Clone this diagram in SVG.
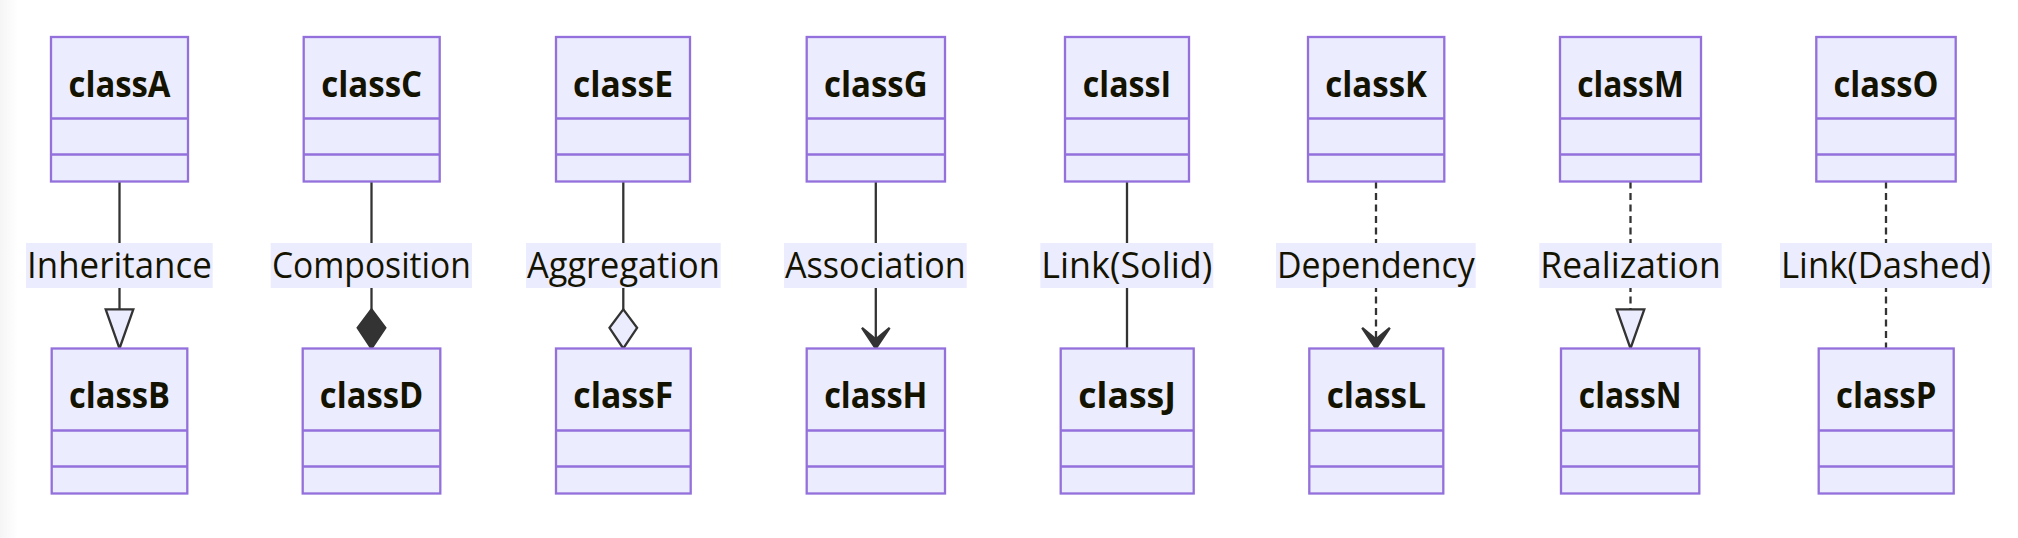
<svg xmlns="http://www.w3.org/2000/svg" width="2018" height="538" viewBox="0 0 2018 538">
<style>
.box{fill:#ECECFF;stroke:#9370DB;stroke-width:2.3}
.div{stroke:#9370DB;stroke-width:2.3}
.title{font-family:"Open Sans","Noto Sans","Liberation Sans",sans-serif;font-size:36px;font-weight:bold;fill:#131300;text-anchor:middle}
.lbl{font-family:"Open Sans","Noto Sans","Liberation Sans",sans-serif;font-size:36px;fill:#131300;text-anchor:middle}
.lblbg{fill:#ECECFF}
.edge{fill:none;stroke:#333;stroke-width:2.3}
.dash{stroke-dasharray:7 4.5}
</style>
<defs>
<linearGradient id="edgeShade" x1="0" y1="0" x2="1" y2="0">
<stop offset="0" stop-color="#f5f5f5"/>
<stop offset="1" stop-color="#ffffff"/>
</linearGradient>
<marker id="ext" viewBox="0 0 20 14" refX="18" refY="7" markerWidth="46" markerHeight="32.2" markerUnits="userSpaceOnUse" orient="auto">
<path d="M1,1 V13 L18,7 Z" fill="#ECECFF" stroke="#333" stroke-width="1"/>
</marker>
<marker id="comp" viewBox="0 0 20 14" refX="18" refY="7" markerWidth="46" markerHeight="32.2" markerUnits="userSpaceOnUse" orient="auto">
<path d="M18,7 L9,13 L1,7 L9,1 Z" fill="#333" stroke="#333" stroke-width="1"/>
</marker>
<marker id="aggr" viewBox="0 0 20 14" refX="18" refY="7" markerWidth="46" markerHeight="32.2" markerUnits="userSpaceOnUse" orient="auto">
<path d="M18,7 L9,13 L1,7 L9,1 Z" fill="#ECECFF" stroke="#333" stroke-width="1"/>
</marker>
<marker id="dep" viewBox="0 0 20 14" refX="18" refY="7" markerWidth="46" markerHeight="32.2" markerUnits="userSpaceOnUse" orient="auto">
<path d="M18,7 L9,13 L14,7 L9,1 Z" fill="#333" stroke="#333" stroke-width="1"/>
</marker>
</defs>
<rect x="0" y="0" width="2018" height="538" fill="#ffffff"/>
<rect x="0" y="0" width="18" height="538" fill="url(#edgeShade)"/>

<g id="connectors">
<path class="edge" d="M119.5,181.5 V348.5" marker-end="url(#ext)"/>
<path class="edge" d="M371.5,181.5 V348.5" marker-end="url(#comp)"/>
<path class="edge" d="M623.3,181.5 V348.5" marker-end="url(#aggr)"/>
<path class="edge" d="M875.8,181.5 V348.5" marker-end="url(#dep)"/>
<path class="edge" d="M1127,181.5 V348.5"/>
<path class="edge dash" d="M1376,181.5 V348.5" marker-end="url(#dep)"/>
<path class="edge dash" d="M1630.5,181.5 V348.5" marker-end="url(#ext)"/>
<path class="edge dash" d="M1886,181.5 V348.5"/>
</g>

<g id="edge-labels">
<rect class="lblbg" x="26" y="243" width="186.7" height="45"/>
<text class="lbl" x="119.4" y="278" textLength="184.7" lengthAdjust="spacingAndGlyphs">Inheritance</text>
<rect class="lblbg" x="270.7" y="243" width="201.3" height="45"/>
<text class="lbl" x="371.4" y="278" textLength="199" lengthAdjust="spacingAndGlyphs">Composition</text>
<rect class="lblbg" x="526" y="243" width="194.7" height="45"/>
<text class="lbl" x="623.4" y="278" textLength="192.7" lengthAdjust="spacingAndGlyphs">Aggregation</text>
<rect class="lblbg" x="784" y="243" width="182.7" height="45"/>
<text class="lbl" x="875.4" y="278" textLength="180.7" lengthAdjust="spacingAndGlyphs">Association</text>
<rect class="lblbg" x="1040.3" y="243" width="173" height="45"/>
<text class="lbl" x="1126.8" y="278" textLength="171" lengthAdjust="spacingAndGlyphs">Link(Solid)</text>
<rect class="lblbg" x="1276" y="243" width="199.7" height="45"/>
<text class="lbl" x="1375.9" y="278" textLength="197.7" lengthAdjust="spacingAndGlyphs">Dependency</text>
<rect class="lblbg" x="1539.3" y="243" width="182.4" height="45"/>
<text class="lbl" x="1630.5" y="278" textLength="180.4" lengthAdjust="spacingAndGlyphs">Realization</text>
<rect class="lblbg" x="1780" y="243" width="212" height="45"/>
<text class="lbl" x="1886" y="278" textLength="210" lengthAdjust="spacingAndGlyphs">Link(Dashed)</text>
</g>

<g id="classA"><rect class="box" x="51" y="37" width="137" height="144.5"/><line class="div" x1="51" y1="118.5" x2="188" y2="118.5"/><line class="div" x1="51" y1="154.5" x2="188" y2="154.5"/><text class="title" x="119.5" y="96.5" textLength="102" lengthAdjust="spacingAndGlyphs">classA</text></g>
<g id="classC"><rect class="box" x="303.7" y="37" width="136" height="144.5"/><line class="div" x1="303.7" y1="118.5" x2="439.7" y2="118.5"/><line class="div" x1="303.7" y1="154.5" x2="439.7" y2="154.5"/><text class="title" x="371.7" y="96.5" textLength="101" lengthAdjust="spacingAndGlyphs">classC</text></g>
<g id="classE"><rect class="box" x="556" y="37" width="134" height="144.5"/><line class="div" x1="556" y1="118.5" x2="690" y2="118.5"/><line class="div" x1="556" y1="154.5" x2="690" y2="154.5"/><text class="title" x="623" y="96.5" textLength="100" lengthAdjust="spacingAndGlyphs">classE</text></g>
<g id="classG"><rect class="box" x="806.7" y="37" width="138.3" height="144.5"/><line class="div" x1="806.7" y1="118.5" x2="945" y2="118.5"/><line class="div" x1="806.7" y1="154.5" x2="945" y2="154.5"/><text class="title" x="875.8" y="96.5" textLength="103.7" lengthAdjust="spacingAndGlyphs">classG</text></g>
<g id="classI"><rect class="box" x="1065" y="37" width="124" height="144.5"/><line class="div" x1="1065" y1="118.5" x2="1189" y2="118.5"/><line class="div" x1="1065" y1="154.5" x2="1189" y2="154.5"/><text class="title" x="1127" y="96.5" textLength="88.3" lengthAdjust="spacingAndGlyphs">classI</text></g>
<g id="classK"><rect class="box" x="1308" y="37" width="136.3" height="144.5"/><line class="div" x1="1308" y1="118.5" x2="1444.3" y2="118.5"/><line class="div" x1="1308" y1="154.5" x2="1444.3" y2="154.5"/><text class="title" x="1376.1" y="96.5" textLength="101.7" lengthAdjust="spacingAndGlyphs">classK</text></g>
<g id="classM"><rect class="box" x="1560" y="37" width="141" height="144.5"/><line class="div" x1="1560" y1="118.5" x2="1701" y2="118.5"/><line class="div" x1="1560" y1="154.5" x2="1701" y2="154.5"/><text class="title" x="1630.5" y="96.5" textLength="106.7" lengthAdjust="spacingAndGlyphs">classM</text></g>
<g id="classO"><rect class="box" x="1816.3" y="37" width="139.4" height="144.5"/><line class="div" x1="1816.3" y1="118.5" x2="1955.7" y2="118.5"/><line class="div" x1="1816.3" y1="154.5" x2="1955.7" y2="154.5"/><text class="title" x="1886" y="96.5" textLength="105" lengthAdjust="spacingAndGlyphs">classO</text></g>

<g id="classB"><rect class="box" x="51.7" y="348.5" width="135.6" height="145"/><line class="div" x1="51.7" y1="430.5" x2="187.3" y2="430.5"/><line class="div" x1="51.7" y1="466.5" x2="187.3" y2="466.5"/><text class="title" x="119.5" y="407.5" textLength="101" lengthAdjust="spacingAndGlyphs">classB</text></g>
<g id="classD"><rect class="box" x="302.7" y="348.5" width="137.6" height="145"/><line class="div" x1="302.7" y1="430.5" x2="440.3" y2="430.5"/><line class="div" x1="302.7" y1="466.5" x2="440.3" y2="466.5"/><text class="title" x="371.5" y="407.5" textLength="103.3" lengthAdjust="spacingAndGlyphs">classD</text></g>
<g id="classF"><rect class="box" x="556" y="348.5" width="134.7" height="145"/><line class="div" x1="556" y1="430.5" x2="690.7" y2="430.5"/><line class="div" x1="556" y1="466.5" x2="690.7" y2="466.5"/><text class="title" x="623.3" y="407.5" textLength="100" lengthAdjust="spacingAndGlyphs">classF</text></g>
<g id="classH"><rect class="box" x="806.7" y="348.5" width="138.3" height="145"/><line class="div" x1="806.7" y1="430.5" x2="945" y2="430.5"/><line class="div" x1="806.7" y1="466.5" x2="945" y2="466.5"/><text class="title" x="875.8" y="407.5" textLength="103.3" lengthAdjust="spacingAndGlyphs">classH</text></g>
<g id="classJ"><rect class="box" x="1060.7" y="348.5" width="133" height="145"/><line class="div" x1="1060.7" y1="430.5" x2="1193.7" y2="430.5"/><line class="div" x1="1060.7" y1="466.5" x2="1193.7" y2="466.5"/><text class="title" x="1127.2" y="407.5" textLength="97.7" lengthAdjust="spacingAndGlyphs">classJ</text></g>
<g id="classL"><rect class="box" x="1309.3" y="348.5" width="134" height="145"/><line class="div" x1="1309.3" y1="430.5" x2="1443.3" y2="430.5"/><line class="div" x1="1309.3" y1="466.5" x2="1443.3" y2="466.5"/><text class="title" x="1376.3" y="407.5" textLength="99.3" lengthAdjust="spacingAndGlyphs">classL</text></g>
<g id="classN"><rect class="box" x="1561" y="348.5" width="138.3" height="145"/><line class="div" x1="1561" y1="430.5" x2="1699.3" y2="430.5"/><line class="div" x1="1561" y1="466.5" x2="1699.3" y2="466.5"/><text class="title" x="1630.2" y="407.5" textLength="102.7" lengthAdjust="spacingAndGlyphs">classN</text></g>
<g id="classP"><rect class="box" x="1818.7" y="348.5" width="135" height="145"/><line class="div" x1="1818.7" y1="430.5" x2="1953.7" y2="430.5"/><line class="div" x1="1818.7" y1="466.5" x2="1953.7" y2="466.5"/><text class="title" x="1886.2" y="407.5" textLength="100.3" lengthAdjust="spacingAndGlyphs">classP</text></g>
</svg>
